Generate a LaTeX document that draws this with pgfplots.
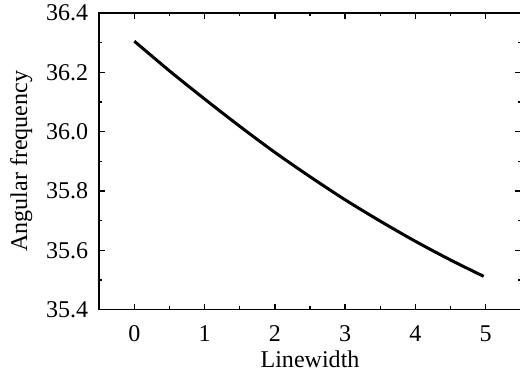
\documentclass[border=0pt]{standalone}
\usepackage{pgfplots}
\pgfplotsset{compat=1.18}
\usepackage{fontspec}
\setmainfont{Liberation Serif}
\begin{document}
\begin{tikzpicture}
\begin{axis}[
  name=ax,
  scale only axis,
  width=210.5pt, height=148pt,
  xmin=-0.5, xmax=5.5,
  ymin=35.4, ymax=36.4,
  xtick={0,1,2,3,4,5},
  minor xtick={-0.5,0.5,1.5,2.5,3.5,4.5,5.5},
  ytick={35.4,35.6,35.8,36.0,36.2,36.4},
  minor ytick={35.5,35.7,35.9,36.1,36.3},
  major tick length=3pt,
  minor tick length=1.6pt,
  tick style={black, line width=0.7pt},
  axis line style={black, line width=0.85pt},
  xticklabel={\pgfmathprintnumber[assume math mode=true]{\tick}},
  yticklabel={\pgfmathprintnumber[assume math mode=true,fixed,fixed zerofill,precision=1]{\tick}},
  yticklabel style={xshift=-2pt},
  xticklabel style={yshift=-4.5pt},
  xlabel={Linewidth},
  ylabel={Angular frequency},
  xlabel style={at={(axis description cs:0.5,-0.196)}, anchor=base},
  ylabel style={at={(axis description cs:-0.171,0.5)}, rotate=0, anchor=base},
  tick label style={font=\fontsize{12}{14}\selectfont},
  label style={font=\fontsize{12}{14}\selectfont},
]
\addplot[black, line width=1.5pt, smooth] coordinates {
(0,36.305) (0.5,36.205) (1,36.11) (1.5,36.018) (2,35.93) (2.5,35.848)
(3,35.77) (3.5,35.698) (4,35.63) (4.5,35.567) (4.97,35.512)
};
\end{axis}
\pgfresetboundingbox
\path[use as bounding box] ([xshift=-49.5pt,yshift=-30.5pt]ax.south west) rectangle ([xshift=-0.45pt,yshift=6.5pt]ax.north east);
\end{tikzpicture}
\end{document}
